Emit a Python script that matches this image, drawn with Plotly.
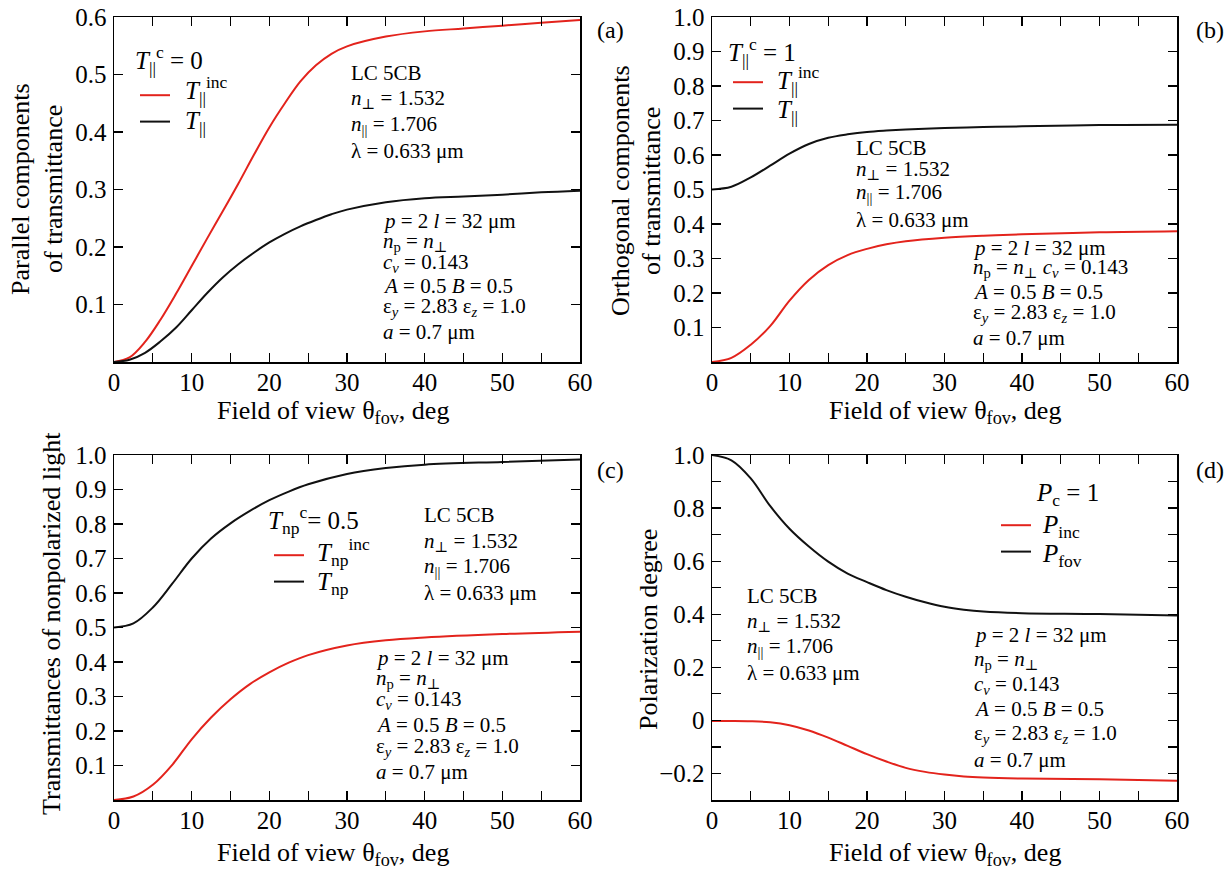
import plotly.graph_objects as go

FONT = "Liberation Serif, Times New Roman, Nimbus Roman, DejaVu Serif, serif"
W, H = 1231, 875
OFF = 0  # page body margin is removed by the post script below
RED = "#e3231c"
BLACK = "#111111"

# ---------------- data ----------------
theta_a = [0, 2, 4, 6, 8, 10, 12, 14, 16, 18, 20, 22, 24, 26, 28, 30, 35, 40, 45, 50, 55, 60]
a_T_inc = [0, 0.008, 0.035, 0.074, 0.119, 0.167, 0.215, 0.262, 0.31, 0.36, 0.408, 0.45,
           0.488, 0.516, 0.536, 0.549, 0.566, 0.575, 0.58, 0.585, 0.59, 0.595]
a_T = [0, 0.004, 0.016, 0.036, 0.06, 0.09, 0.12, 0.147, 0.17, 0.19, 0.208, 0.223,
       0.236, 0.247, 0.257, 0.265, 0.278, 0.285, 0.288, 0.291, 0.295, 0.298]

theta_b = [0, 2.5, 5, 7.5, 10, 12.5, 15, 17.5, 20, 22.5, 25, 30, 35, 40, 50, 60]
b_T_inc = [0, 0.012, 0.05, 0.104, 0.178, 0.238, 0.281, 0.31, 0.328, 0.341, 0.35, 0.36,
           0.366, 0.37, 0.376, 0.379]
b_T = [0.5, 0.508, 0.535, 0.569, 0.604, 0.632, 0.65, 0.66, 0.667, 0.671, 0.674, 0.678,
       0.681, 0.683, 0.687, 0.688]

theta_c = [0, 2.5, 5, 7.5, 10, 12.5, 15, 17.5, 20, 22.5, 25, 30, 35, 40, 50, 60]
c_T_inc = [0, 0.01, 0.044, 0.102, 0.176, 0.239, 0.292, 0.336, 0.37, 0.398, 0.42, 0.448,
           0.463, 0.471, 0.481, 0.488]
c_T = [0.5, 0.512, 0.558, 0.627, 0.7, 0.758, 0.802, 0.838, 0.869, 0.894, 0.915, 0.945,
       0.962, 0.972, 0.98, 0.987]

theta_d = [0, 2.5, 5, 7.5, 10, 12.5, 15, 17.5, 20, 22.5, 25, 27.5, 30, 32.5, 35, 40, 50, 60]
d_P_inc = [-0.002, -0.002, -0.003, -0.007, -0.018, -0.038, -0.065, -0.096, -0.127, -0.155,
           -0.179, -0.194, -0.204, -0.211, -0.215, -0.219, -0.222, -0.227]
d_P_fov = [1.0, 0.98, 0.912, 0.808, 0.722, 0.655, 0.598, 0.553, 0.521, 0.491,
           0.466, 0.445, 0.428, 0.417, 0.41, 0.404, 0.401, 0.395]

x_ticks = [0, 10, 20, 30, 40, 50, 60]
y_ticks_a = [0.1, 0.2, 0.3, 0.4, 0.5, 0.6]
y_ticks_bc = [0.1, 0.2, 0.3, 0.4, 0.5, 0.6, 0.7, 0.8, 0.9, 1.0]
y_ticks_d = [-0.2, 0, 0.2, 0.4, 0.6, 0.8, 1.0]
y_text_d = ["\u22120.2", "0", "0.2", "0.4", "0.6", "0.8", "1.0"]

# ---------------- layout helpers (reference pixel -> paper) ----------------
def px(x):
    return (x - OFF) / W

def py(y):
    return 1 - (y - OFF) / H

LEFT_X = [114, 580]
RIGHT_X = [712, 1177]
TOP_Y = [17, 362]
BOT_Y = [455, 800]

tickfont = dict(family=FONT, size=25, color="black")

def xaxis(dom, anchor):
    return dict(domain=[px(dom[0]), px(dom[1])], anchor=anchor, range=[0, 60], automargin=False,
                tickmode="array", tickvals=x_ticks, ticktext=[str(v) for v in x_ticks],
                ticks="inside", ticklen=9, tickwidth=1.3, tickcolor="black",
                showline=True, linewidth=1.5, linecolor="black", mirror="ticks",
                showgrid=False, zeroline=False, tickfont=tickfont, ticklabelstandoff=-3,
                ticklabeloverflow="allow",
                minor=dict(dtick=5, tick0=0, ticks="inside", ticklen=9, tickwidth=1.3,
                           tickcolor="black", showgrid=False))

def yaxis(dom, anchor, rng, vals, texts, minor=None):
    d = dict(domain=[py(dom[1]), py(dom[0])], anchor=anchor, range=rng, automargin=False,
             tickmode="array", tickvals=vals, ticktext=texts,
             ticks="inside", ticklen=9, tickwidth=1.3, tickcolor="black",
             showline=True, linewidth=1.5, linecolor="black", mirror="ticks",
             showgrid=False, zeroline=False, tickfont=tickfont, ticklabelstandoff=1,
             ticklabeloverflow="allow")
    if minor:
        d["minor"] = dict(dtick=minor, tick0=0, ticks="inside", ticklen=9, tickwidth=1.3,
                          tickcolor="black", showgrid=False)
    return d

fig = go.Figure()

def add(x, y, color, xa, ya, leg):
    fig.add_trace(go.Scatter(x=x, y=y, mode="lines", name=" ",
                             line=dict(color=color, width=2, shape="spline", smoothing=1.0),
                             xaxis=xa, yaxis=ya, legend=leg, hoverinfo="skip"))

add(theta_a, a_T_inc, RED, "x", "y", "legend")
add(theta_a, a_T, BLACK, "x", "y", "legend")
add(theta_b, b_T_inc, RED, "x2", "y2", "legend2")
add(theta_b, b_T, BLACK, "x2", "y2", "legend2")
add(theta_c, c_T_inc, RED, "x3", "y3", "legend3")
add(theta_c, c_T, BLACK, "x3", "y3", "legend3")
add(theta_d, d_P_inc, RED, "x4", "y4", "legend4")
add(theta_d, d_P_fov, BLACK, "x4", "y4", "legend4")

def legend(x, first_line_y):
    return dict(x=px(x - 7), y=py(first_line_y - 18), xanchor="left", yanchor="top",
                xref="paper", yref="paper", bgcolor="rgba(0,0,0,0)", borderwidth=0,
                font=dict(family=FONT, size=18, color="black"),
                tracegroupgap=0, itemwidth=30, traceorder="normal")

fig.update_layout(
    template="none",
    width=W, height=H, margin=dict(l=0, r=0, t=0, b=0, autoexpand=False),
    paper_bgcolor="white", plot_bgcolor="white",
    font=dict(family=FONT, color="black"),
    xaxis=xaxis(LEFT_X, "y"), yaxis=yaxis(TOP_Y, "x", [0, 0.6], y_ticks_a, [f"{v:.1f}" for v in y_ticks_a]),
    xaxis2=xaxis(RIGHT_X, "y2"), yaxis2=yaxis(TOP_Y, "x2", [0, 1.0], y_ticks_bc, [f"{v:.1f}" for v in y_ticks_bc]),
    xaxis3=xaxis(LEFT_X, "y3"), yaxis3=yaxis(BOT_Y, "x3", [0, 1.0], y_ticks_bc, [f"{v:.1f}" for v in y_ticks_bc]),
    xaxis4=xaxis(RIGHT_X, "y4"), yaxis4=yaxis(BOT_Y, "x4", [-0.3, 1.0], y_ticks_d, y_text_d, minor=0.1),
    legend=legend(142, 95),
    legend2=legend(735, 82),
    legend3=legend(276, 555),
    legend4=legend(1003, 525),
    showlegend=True,
    hovermode=False,
)

ann = []

def text(x, y, s, size=21, xanchor="left", angle=0):
    ann.append(dict(x=px(x), y=py(y), xref="paper", yref="paper", text=s, showarrow=False,
                    xanchor=xanchor, yanchor="middle", textangle=angle, borderpad=0,
                    font=dict(family=FONT, size=size, color="black")))

# legend titles and entry labels
T_par_inc = "<i>T</i><sub>||</sub><sup>inc</sup>"
T_par = "<i>T</i><sub>||</sub>"
text(134, 60, "<i>T</i><sub>||</sub><sup>c</sup> = 0", size=25)
text(184, 90, T_par_inc, size=25)
text(184, 122, T_par, size=25)
text(727, 52, "<i>T</i><sub>||</sub><sup>c</sup> = 1", size=25)
text(776, 80, T_par_inc, size=25)
text(776, 111, T_par, size=25)
text(267, 520, "<i>T</i><sub>np</sub><sup>c</sup>= 0.5", size=25)
text(316, 552, "<i>T</i><sub>np</sub><sup>inc</sup>", size=25)
text(316, 583, "<i>T</i><sub>np</sub>", size=25)
text(1035, 494, "<i>P</i><sub>c</sub> = 1", size=25)
text(1041, 526, "<i>P</i><sub>inc</sub>", size=25)
text(1041, 555, "<i>P</i><sub>fov</sub>", size=25)

upper = ["LC 5CB", "<i>n</i><sub>\u22a5</sub> = 1.532", "<i>n</i><sub>||</sub> = 1.706", "\u03bb = 0.633 \u03bcm"]
p_line = "<i>p</i> = 2 <i>l</i> = 32 \u03bcm"
np_line = "<i>n</i><sub>p</sub> = <i>n</i><sub>\u22a5</sub>"
cv_line = "<i>c<sub>v</sub></i> = 0.143"
ab_line = "<i>A</i> = 0.5 <i>B</i> = 0.5"
eps_line = "\u03b5<sub><i>y</i></sub> = 2.83 \u03b5<sub><i>z</i></sub> = 1.0"
a_line = "<i>a</i> = 0.7 \u03bcm"
lower6 = [p_line, np_line, cv_line, ab_line, eps_line, a_line]
lower5 = [p_line, np_line + " " + cv_line, ab_line, eps_line, a_line]

def block(x, ys, lines):
    for yy, s in zip(ys, lines):
        text(x, yy, s)

block(350, [73, 99, 125, 151], upper)
block(382, [221, 242, 263, 286, 307, 332], lower6)
block(855, [148, 170, 193, 220], upper)
block(972, [248, 268, 292, 313, 338], lower5)
block(423, [515, 542, 567, 593], upper)
block(375, [658, 679, 700, 725, 747, 772], lower6)
block(746, [596, 622, 647, 673], upper)
block(973, [635, 660, 685, 709, 734, 760], lower6)

# panel labels
for (x, y, s) in [(610, 30, "(a)"), (1210, 30, "(b)"), (610, 470, "(c)"), (1210, 470, "(d)")]:
    text(x, y, s, size=24, xanchor="center")

# axis titles
xt = "Field of view \u03b8<sub>fov</sub>, deg"
for (x, y) in [(333, 412), (945, 412), (333, 854), (945, 854)]:
    text(x, y, xt, size=26, xanchor="center")

text(21, 189, "Parallel components", size=26, xanchor="center", angle=-90)
text(54, 189, "of transmittance", size=26, xanchor="center", angle=-90)
text(620, 191, "Orthogonal components", size=26, xanchor="center", angle=-90)
text(651, 191, "of transmittance", size=26, xanchor="center", angle=-90)
text(51, 624, "Transmittances of nonpolarized light", size=26, xanchor="center", angle=-90)
text(648, 630, "Polarization degree", size=26, xanchor="center", angle=-90)

fig.update_layout(annotations=ann)

fig.write_html("out.html",
               config={"displayModeBar": False, "staticPlot": True},
               post_script="document.body.style.margin='0';document.body.style.overflow='hidden';")
